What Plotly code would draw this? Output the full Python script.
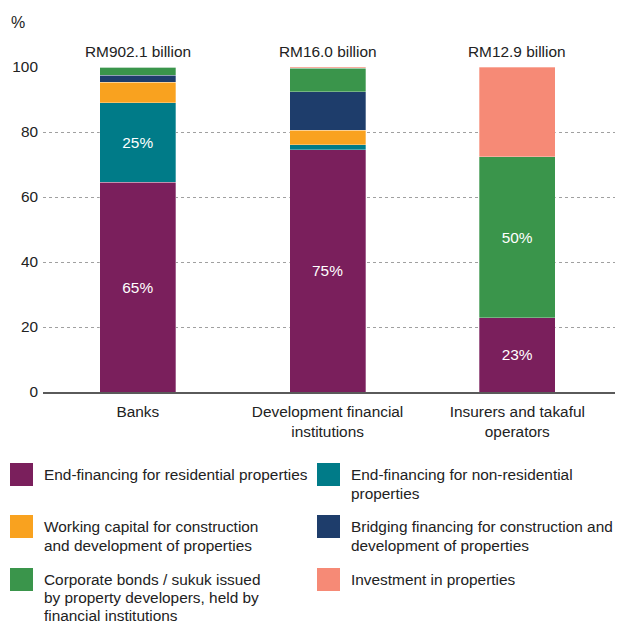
import plotly.graph_objects as go

categories = ["Banks", "Development financial<br>institutions", "Insurers and takaful<br>operators"]
totals = ["RM902.1 billion", "RM16.0 billion", "RM12.9 billion"]

series_names = [
    "End-financing for residential properties",
    "End-financing for non-residential\nproperties",
    "Working capital for construction\nand development of properties",
    "Bridging financing for construction and\ndevelopment of properties",
    "Corporate bonds / sukuk issued\nby property developers, held by\nfinancial institutions",
    "Investment in properties",
]
residential = [64.5, 74.6, 22.8]
non_residential = [24.5, 1.5, 0.0]
working_capital = [6.3, 4.4, 0.0]
bridging = [2.2, 11.9, 0.0]
corporate_bonds = [2.5, 7.2, 49.6]
investment = [0.0, 0.4, 27.6]
series_values = [residential, non_residential, working_capital, bridging, corporate_bonds, investment]
series_labels = [
    ["65%", "75%", "23%"],
    ["25%", "", ""],
    ["", "", ""],
    ["", "", ""],
    ["", "", "50%"],
    ["", "", ""],
]
colors = ["#7A1F5C", "#007B88", "#F9A21F", "#1E3D6B", "#3A954B", "#F68A76"]
y_ticks = [0, 20, 40, 60, 80, 100]

FONT = "Liberation Sans, Arial, sans-serif"
TXT = "#222222"
FS = 15.4

# layout geometry (pixels)
L, R, T, B = 43, 3, 67, 234
FW, FH = 618, 626
PW, PH = FW - L - R, FH - T - B
bottom = T + PH


def px(x, y):
    return (x - L) / PW, (bottom - y) / PH


fig = go.Figure()
xs = [0, 1, 2]
for name, vals, labs, col in zip(series_names, series_values, series_labels, colors):
    fig.add_trace(go.Bar(
        x=xs, y=vals, name=name.replace("\n", " "),
        marker=dict(color=col, line=dict(width=0.5, color="rgba(255,255,255,0.6)")),
        width=0.4, text=labs, textposition="inside", insidetextanchor="middle",
        textfont=dict(color="white", size=FS, family=FONT), showlegend=False,
        hoverinfo="skip",
    ))

annotations = []
# totals above bars
for i, t in enumerate(totals):
    annotations.append(dict(x=i, y=px(0, 52)[1], xref="x", yref="paper", text=t, showarrow=False,
                            font=dict(size=FS, color=TXT, family=FONT), xanchor="center", yanchor="middle"))
# % unit label
ux, uy = px(18, 22)
annotations.append(dict(x=ux, y=uy, xref="paper", yref="paper", text="%", showarrow=False,
                        font=dict(size=16, color=TXT, family=FONT), xanchor="center", yanchor="middle"))

# custom legend
shapes = []
col_sq_x = [10, 317]
col_tx_x = [43, 350]
row_y = [474, 526, 579]
line_sp = [19.3, 19.3, 18.3]
for k, (name, col) in enumerate(zip(series_names, colors)):
    r, c = divmod(k, 2)
    cy = row_y[r]
    x0, y0 = px(col_sq_x[c], cy - 11)
    x1, y1 = px(col_sq_x[c] + 23, cy + 12)
    shapes.append(dict(type="rect", xref="paper", yref="paper", x0=x0, x1=x1, y0=y1, y1=y0,
                       fillcolor=col, line=dict(width=0), layer="above"))
    for j, line in enumerate(name.split("\n")):
        tx, ty = px(col_tx_x[c], cy + j * line_sp[r])
        annotations.append(dict(x=tx, y=ty, xref="paper", yref="paper", text=line, showarrow=False,
                                borderpad=0,
                                font=dict(size=FS, color=TXT, family=FONT), xanchor="left", yanchor="middle"))

fig.update_layout(
    width=FW, height=FH,
    margin=dict(l=L, r=R, t=T, b=B, pad=0),
    paper_bgcolor="white", plot_bgcolor="white",
    barmode="stack", bargap=0.6,
    font=dict(family=FONT, size=FS, color=TXT),
    annotations=annotations, shapes=shapes,
    xaxis=dict(tickmode="array", tickvals=xs, ticktext=categories, range=[-0.5, 2.515],
               showgrid=False, showline=True, linecolor="#5a5a5a", linewidth=1.5, ticks="",
               tickfont=dict(size=FS, color=TXT, family=FONT), ticklabelstandoff=5,
               zeroline=False, fixedrange=True),
    yaxis=dict(range=[0, 100], tickvals=y_ticks, showgrid=True, gridcolor="#a0a0a0", gridwidth=1,
               griddash="3px,3px", zeroline=False, showline=False, ticks="",
               tickfont=dict(size=FS, color=TXT, family=FONT), ticklabelstandoff=4, fixedrange=True),
)

fig.write_html("out.html")
